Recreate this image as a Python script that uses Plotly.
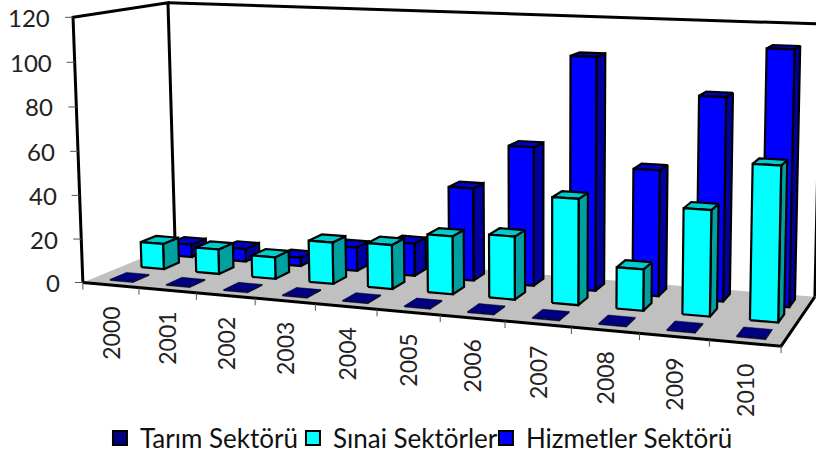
import numpy as np
import plotly.graph_objects as go

years = ["2000","2001","2002","2003","2004","2005","2006","2007","2008","2009","2010"]
tarim = [0.5,0.5,0.5,0.5,0.5,0.5,0.5,0.5,0.5,0.5,0.5]
sinai = [12,11.5,10,19,20,26,28,46.5,18,45.5,66]
hizmet = [6,6,4,11,15,42.5,63,104.5,56,89.5,111]
y_ticks = [0,20,40,60,80,100,120]

names = ["Tarım Sektörü","Sınai Sektörler","Hizmetler Sektörü"]
FONT = "Lato"
T0, TW = 0.33, 0.41
D0 = [0.09,0.42,0.74]
DW = 0.17

# camera calibration: (category, depth, value) -> page pixel
calib = [((0,0,0),(83,283)),((11,0,0),(781,346)),((0,1,0),(175,244)),((11,1,0),(815,297)),
         ((0,0,120),(73,17)),((0,1,120),(168,3)),((11,1,120),(821,24))]
A=[];b=[]
for (t,d,z),(u,v) in calib:
    A.append([t,d,z,1,0,0,0,0,-u*t,-u*d,-u*z]);b.append(u)
    A.append([0,0,0,0,t,d,z,1,-v*t,-v*d,-v*z]);b.append(v)
p=np.linalg.lstsq(np.array(A,float),np.array(b,float),rcond=None)[0]
P=np.append(p,1).reshape(3,4)
def proj(t,d,z):
    q=P@np.array([t,d,z,1.0])
    return float(q[0]/q[2]),float(q[1]/q[2])
def poly(pts):
    xy=[proj(*a) for a in pts]
    xy.append(xy[0])
    return [a[0] for a in xy]+[None],[a[1] for a in xy]+[None]
def multi(polys):
    X=[];Y=[]
    for pl in polys:
        x,y=poly(pl);X+=x;Y+=y
    return X,Y

fig=go.Figure()
def add_poly(X,Y,fill,lw=2.2,line="black"):
    fig.add_trace(go.Scatter(x=X,y=Y,mode="lines",fill="toself",fillcolor=fill,
        line=dict(color=line,width=lw),hoverinfo="skip",showlegend=False))
def add_line(pts,w,color="black"):
    xy=[proj(*a) for a in pts]
    fig.add_trace(go.Scatter(x=[a[0] for a in xy],y=[a[1] for a in xy],mode="lines",
        line=dict(color=color,width=w),hoverinfo="skip",showlegend=False))

# walls
add_line([(0,0,0),(0,0,120),(0,1,120),(0,1,0)],3)
add_line([(0,1,120),(11,1,120),(11,1,0)],3)
# floor
add_poly(*poly([(0,0,0),(11,0,0),(11,1,0),(0,1,0)]),"#C0C0C0",lw=0)
add_line([(0,0,0),(11,0,0),(11,1,0)],3)

# ticks
for v in y_ticks:
    x,y=proj(0,0,v)
    fig.add_trace(go.Scatter(x=[x-8,x],y=[y,y],mode="lines",line=dict(color="#555",width=1),hoverinfo="skip",showlegend=False))
    fig.add_annotation(x=x-21,y=y,text=str(v),showarrow=False,xanchor="right",yanchor="middle",
        font=dict(family=FONT,size=24,color="#222"))
for i in range(12):
    x,y=proj(i,0,0)
    fig.add_trace(go.Scatter(x=[x,x],y=[y,y+7],mode="lines",line=dict(color="#555",width=1),hoverinfo="skip",showlegend=False))
for i,lab in enumerate(years):
    x,y=proj(i+0.5,0,0)
    fig.add_annotation(x=x,y=y+48,text=lab,showarrow=False,textangle=-90,xanchor="center",yanchor="middle",
        font=dict(family=FONT,size=23,color="#222"))

# bars, back row first
series=[(hizmet,2,"#0000FF","#0000A0","#0000CC"),(sinai,1,"#00FFFF","#00A0A0","#00CCCC"),(tarim,0,"#000080","#000050","#000080")]
for vals,s,cf,cs,ct in series:
    d0=D0[s];d1=d0+DW
    fr=[];si=[];to=[]
    for i,v in enumerate(vals):
        t0=i+T0;t1=t0+TW
        fr.append([(t0,d0,0),(t1,d0,0),(t1,d0,v),(t0,d0,v)])
        si.append([(t1,d0,0),(t1,d1,0),(t1,d1,v),(t1,d0,v)])
        to.append([(t0,d0,v),(t1,d0,v),(t1,d1,v),(t0,d1,v)])
    lw=2.2 if s else 0.5
    add_poly(*multi(si),cs,lw); add_poly(*multi(to),ct,lw); add_poly(*multi(fr),cf,lw)

# legend
for n,c in zip(names,["#000080","#00FFFF","#0000FF"]):
    fig.add_trace(go.Scatter(x=[None],y=[None],mode="markers",name=n,
        marker=dict(symbol="square",size=14,color=c,line=dict(color="black",width=2))))
fig.add_trace(go.Scatter(x=[None],y=[None],mode="markers",name=" ",marker=dict(size=1,opacity=0)))

fig.update_layout(width=816,height=456,margin=dict(l=0,r=0,t=0,b=0,autoexpand=False),paper_bgcolor="white",plot_bgcolor="white",
    xaxis=dict(range=[0,816],visible=False,fixedrange=True),
    yaxis=dict(range=[456,0],visible=False,fixedrange=True),
    legend=dict(orientation="h",x=0.1225,xanchor="left",y=0.0395,yanchor="middle",entrywidth=148,entrywidthmode="pixels",
        font=dict(family=FONT,size=26,color="#111"),bgcolor="rgba(0,0,0,0)",itemclick=False,itemdoubleclick=False),
    font=dict(family=FONT))
fig.write_html("out.html",config=dict(displayModeBar=False),
    post_script="document.body.style.margin='0';document.documentElement.style.overflow='hidden';window.dispatchEvent(new Event('resize'));")
